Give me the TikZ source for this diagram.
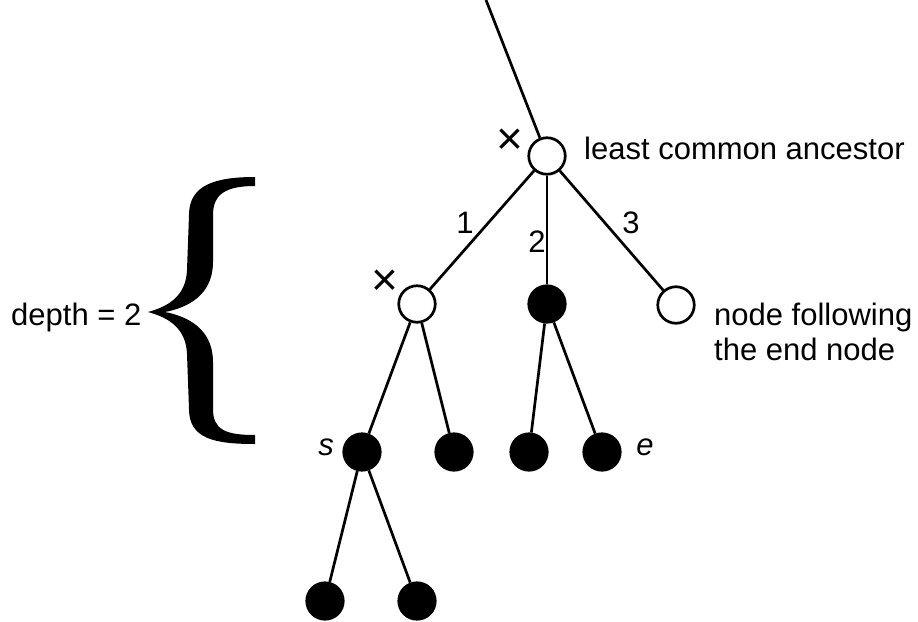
\documentclass[tikz,border=0pt]{standalone}
\usepackage{fontspec}
\setmainfont{Liberation Sans}
\begin{document}
\begin{tikzpicture}[x=1pt,y=-1pt,
  every node/.style={inner sep=0pt, font=\fontsize{31}{35}\selectfont},
  wnode/.style={circle, draw, fill=white, line width=2.7pt, minimum size=36.5pt},
  bnode/.style={circle, draw, fill=black, line width=2.7pt, minimum size=36.5pt},
  edge/.style={line width=2.7pt},
  lbl/.style={anchor=base},
  txt/.style={anchor=base west},
  cross/.style={font=\fontsize{46}{46}\selectfont}]
\useasboundingbox (0,0) rectangle (918,621);
% nodes
\coordinate (top) at (486,0);
\node[wnode] (r) at (547,156) {};
\node[wnode] (c1) at (417,304) {};
\node[bnode] (c2) at (547,304) {};
\node[wnode] (c3) at (676,305) {};
\node[bnode] (s) at (362,452) {};
\node[bnode] (n2) at (454,452) {};
\node[bnode] (n3) at (529,452) {};
\node[bnode] (e) at (602,452) {};
\node[bnode] (l1) at (325,601) {};
\node[bnode] (l2) at (417,601) {};
% edges
\draw[edge] (top) -- (r);
\draw[edge] (r) -- (c1);
\draw[edge] (r) -- (c2);
\draw[edge] (r) -- (c3);
\draw[edge] (c1) -- (s);
\draw[edge] (c1) -- (n2);
\draw[edge] (c2) -- (n3);
\draw[edge] (c2) -- (e);
\draw[edge] (s) -- (l1);
\draw[edge] (s) -- (l2);
% labels
\node[lbl] (lab1) at (465,233) {1};
\node[lbl] (lab2) at (537,252) {2};
\node[lbl] (lab3) at (631,233) {3};
\node[lbl] (labs) at (326,455) {\itshape s};
\node[lbl] (labe) at (645,455) {\itshape e};
\node[cross] (x1) at (510,142) {×};
\node[cross] (x2) at (385,283) {×};
\node[txt] (lca) at (584,159) {least common ancestor};
\node[txt] (nf1) at (714,325) {node following};
\node[txt] (nf2) at (714,360) {the end node};
\node[txt] (dep) at (11,325) {depth = 2};
% brace
\fill (255,177)
  .. controls (215,177) and (189,185) .. (189,215)
  -- (187,270)
  .. controls (186,295) and (170,306) .. (148,312)
  .. controls (170,318) and (186,329) .. (187,354)
  -- (189,409)
  .. controls (189,439) and (215,444) .. (255,444)
  -- (255,435)
  .. controls (226,435) and (213,430) .. (213,409)
  -- (213,362)
  .. controls (213,335) and (196,318) .. (165,312)
  .. controls (196,306) and (213,289) .. (213,262)
  -- (213,215)
  .. controls (213,194) and (226,186) .. (255,186)
  -- cycle;
\end{tikzpicture}
\end{document}
